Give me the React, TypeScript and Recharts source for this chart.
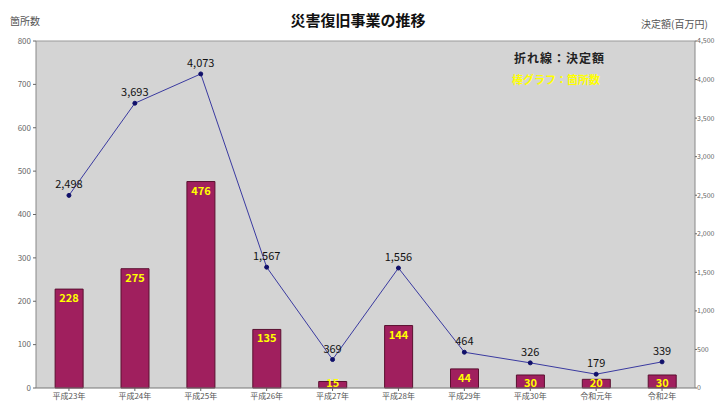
import React from "react";
import {
  ComposedChart,
  Bar,
  Line,
  XAxis,
  YAxis,
  CartesianGrid,
  LabelList,
  ReferenceLine,
} from "recharts";

const categories = ["平成23年", "平成24年", "平成25年", "平成26年", "平成27年", "平成28年", "平成29年", "平成30年", "令和元年", "令和2年"];
const counts = [228, 275, 476, 135, 15, 144, 44, 30, 20, 30];
const amounts = [2498, 3693, 4073, 1567, 369, 1556, 464, 326, 179, 339];
const leftTicks = [0, 100, 200, 300, 400, 500, 600, 700, 800];
const rightTicks = [0, 500, 1000, 1500, 2000, 2500, 3000, 3500, 4000, 4500];

const data = categories.map((c, i) => ({ name: c, count: counts[i], amount: amounts[i] }));

const FONT = "'Noto Sans CJK JP', 'Noto Sans', sans-serif";
const fmt = (v: any) => Number(v).toLocaleString("en-US");

const BarLabel = (props: any) => {
  const { x, y, width, height, value } = props;
  const cx = Number(x) + Number(width) / 2;
  const base = Math.min(Number(y) + 13, Number(y) + Number(height) - 1);
  return (
    <text x={cx} y={base} textAnchor="middle" fill="#ffff00" fontSize={11} fontWeight="bold" fontFamily={FONT}>
      {value}
    </text>
  );
};

export default function App() {
  return (
    <div style={{ position: "absolute", left: 0, top: 0, width: 716, height: 403, background: "#fff", fontFamily: FONT }}>
      <ComposedChart
        width={716}
        height={403}
        data={data}
        margin={{ top: 41, right: 0, bottom: 0, left: 0 }}
        barCategoryGap="29%"
      >
        <CartesianGrid horizontal={false} vertical={false} fill="#d4d4d4" />
        <XAxis
          dataKey="name"
          height={15}
          tick={{ fontSize: 8, fill: "#555", fontFamily: FONT }}
          tickLine={{ stroke: "#666" }}
          tickSize={3}
          axisLine={{ stroke: "#777" }}
          interval={0}
        />
        <YAxis
          yAxisId="left"
          width={36}
          domain={[0, 800]}
          ticks={leftTicks}
          tick={{ fontSize: 8, fill: "#666", fontFamily: FONT }}
          tickLine={{ stroke: "#666" }}
          tickSize={3}
          axisLine={{ stroke: "#888" }}
        />
        <YAxis
          yAxisId="right"
          orientation="right"
          width={21}
          domain={[0, 4500]}
          ticks={rightTicks}
          tickFormatter={fmt}
          tick={{ fontSize: 7, fill: "#666", fontFamily: FONT, textAnchor: "start", dx: -2 }}
          tickLine={{ stroke: "#666" }}
          tickSize={2}
          axisLine={{ stroke: "#888" }}
        />
        <ReferenceLine yAxisId="left" y={800} stroke="#999" />
        <Bar yAxisId="left" dataKey="count" fill="#a01f5e" stroke="#5a1030" strokeWidth={1} isAnimationActive={false}>
          <LabelList dataKey="count" content={<BarLabel />} />
        </Bar>
        <Line
          yAxisId="right"
          type="linear"
          dataKey="amount"
          stroke="#3a3aa0"
          strokeWidth={1}
          dot={{ r: 2, fill: "#10106a", stroke: "#10106a" }}
          isAnimationActive={false}
        >
          <LabelList dataKey="amount" position="top" offset={7} formatter={fmt} fill="#111" fontSize={11} fontFamily={FONT} />
        </Line>
      </ComposedChart>
      <div style={{ position: "absolute", left: 0, width: 716, top: 9, textAlign: "center", fontSize: 15, fontWeight: "bold", color: "#111" }}>
        災害復旧事業の推移
      </div>
      <div style={{ position: "absolute", left: 10, top: 13, fontSize: 10, color: "#555" }}>箇所数</div>
      <div style={{ position: "absolute", left: 641, top: 16, fontSize: 10, color: "#555", whiteSpace: "nowrap" }}>決定額(百万円)</div>
      <div style={{ position: "absolute", left: 514, top: 49, fontSize: 12, fontWeight: "bold", color: "#222", letterSpacing: 1 }}>折れ線：決定額</div>
      <div style={{ position: "absolute", left: 512, top: 71, fontSize: 11, fontWeight: "bold", color: "#ffff00" }}>棒グラフ：箇所数</div>
    </div>
  );
}
